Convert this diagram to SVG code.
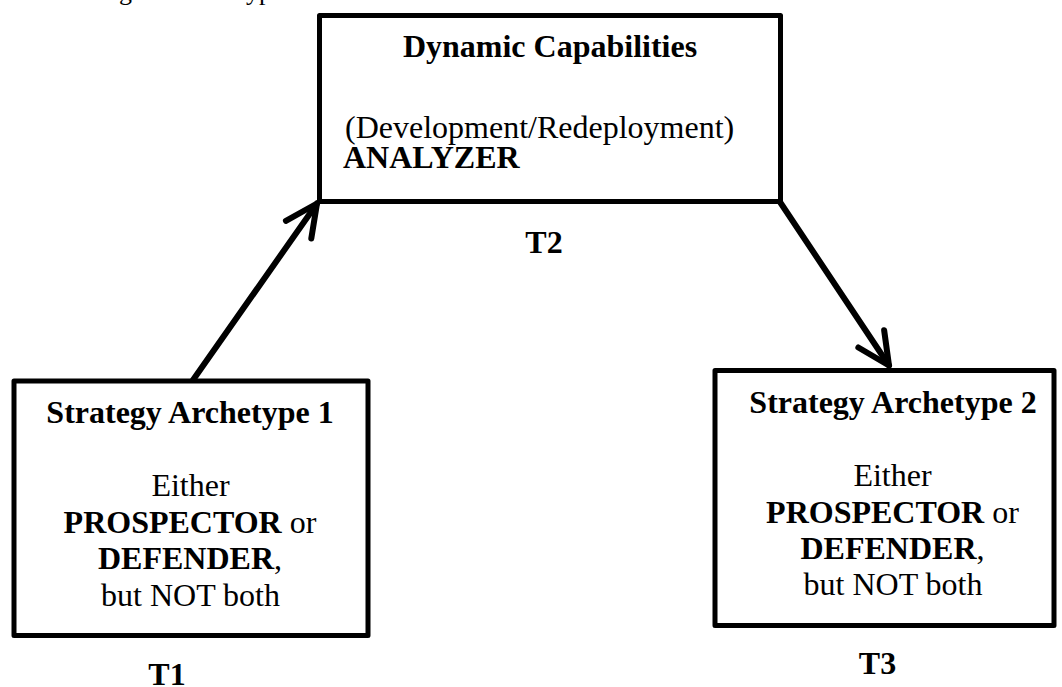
<svg xmlns="http://www.w3.org/2000/svg" width="1062" height="687" viewBox="0 0 1062 687">
  <style>
    text { font-family: "Liberation Serif", "Times New Roman", serif; font-size: 32px; fill: #000; }
    .b { font-weight: bold; }
    .c { text-anchor: middle; }
    .box { fill: #fff; stroke: #000; stroke-width: 5; stroke-linejoin: round; }
    .link { fill: none; stroke: #000; stroke-width: 6; stroke-linecap: round; }
    .frag { font-size: 26px; }
  </style>
  <defs>
    <marker id="chevron" markerUnits="userSpaceOnUse" viewBox="-45 -30 60 60" refX="0" refY="0" markerWidth="60" markerHeight="60" orient="auto" overflow="visible">
      <path d="M-32,-15.5 L0,0 L-32,15.5" fill="none" stroke="#000" stroke-width="6" stroke-linecap="round" stroke-linejoin="round"/>
    </marker>
  </defs>
  <rect width="1062" height="687" fill="#fff"/>

  <!-- line above the figure, cut off at the top edge -->
  <g id="caption-fragment">
    <text class="frag" x="119" y="0">g</text>
    <text class="frag" x="246" y="0">yp</text>
  </g>

  <g id="connectors">
    <line class="link" x1="193" y1="380" x2="317" y2="203.5" marker-end="url(#chevron)"/>
    <line class="link" x1="780" y1="202" x2="889" y2="365.5" marker-end="url(#chevron)"/>
  </g>

  <g id="dynamic-capabilities">
    <rect class="box" x="319.5" y="15.5" width="461" height="186"/>
    <text class="b c" x="550" y="57">Dynamic Capabilities</text>
    <text x="345" y="138">(Development/Redeployment)</text>
    <text class="b" x="343" y="168">ANALYZER</text>
    <text class="b c" x="544" y="253">T2</text>
  </g>

  <g id="archetype-1">
    <rect class="box" x="14" y="381" width="354" height="254.5"/>
    <text class="b c" x="190" y="423">Strategy Archetype 1</text>
    <text class="c" x="190.5" y="496">Either</text>
    <text class="c" x="190" y="532.5"><tspan class="b">PROSPECTOR</tspan> or</text>
    <text class="c" x="190" y="569"><tspan class="b">DEFENDER</tspan>,</text>
    <text class="c" x="190.5" y="605.5">but NOT both</text>
    <text class="b c" x="167" y="685">T1</text>
  </g>

  <g id="archetype-2">
    <rect class="box" x="715" y="370.5" width="339" height="255"/>
    <text class="b c" x="893" y="413">Strategy Archetype 2</text>
    <text class="c" x="892.5" y="486">Either</text>
    <text class="c" x="892.5" y="522.5"><tspan class="b">PROSPECTOR</tspan> or</text>
    <text class="c" x="892.5" y="558.5"><tspan class="b">DEFENDER</tspan>,</text>
    <text class="c" x="893" y="595">but NOT both</text>
    <text class="b c" x="877.5" y="674">T3</text>
  </g>
</svg>
